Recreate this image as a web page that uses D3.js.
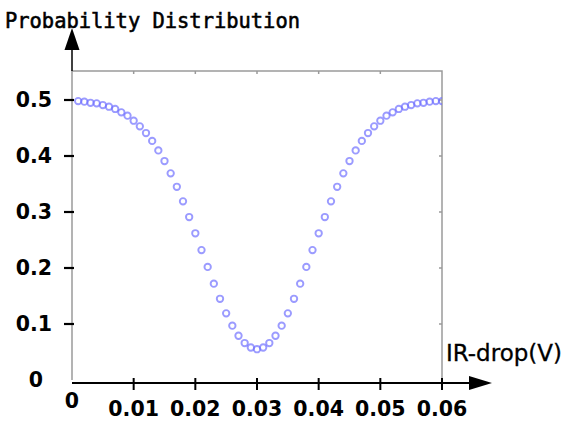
<!DOCTYPE html>
<html>
<head>
<meta charset="utf-8">
<script src="https://cdn.jsdelivr.net/npm/d3@7"></script>
<style>
  html, body { margin: 0; padding: 0; background: #fff; }
  svg { display: block; }
</style>
</head>
<body>
<svg id="chart" width="564" height="424"></svg>
<script>
// ---- data ----
const xValues = [0.001,0.002,0.003,0.004,0.005,0.006,0.007,0.008,0.009,0.010,
                 0.011,0.012,0.013,0.014,0.015,0.016,0.017,0.018,0.019,0.020,
                 0.021,0.022,0.023,0.024,0.025,0.026,0.027,0.028,0.029,0.030,
                 0.031,0.032,0.033,0.034,0.035,0.036,0.037,0.038,0.039,0.040,
                 0.041,0.042,0.043,0.044,0.045,0.046,0.047,0.048,0.049,0.050,
                 0.051,0.052,0.053,0.054,0.055,0.056,0.057,0.058,0.059,0.060];
const probValues = [0.498,0.497,0.495,0.494,0.491,0.488,0.484,0.478,0.472,0.463,
                    0.453,0.441,0.427,0.410,0.391,0.369,0.345,0.319,0.291,0.262,
                    0.232,0.202,0.172,0.145,0.119,0.097,0.079,0.066,0.058,0.055,
                    0.058,0.066,0.079,0.097,0.119,0.145,0.172,0.202,0.232,0.262,
                    0.291,0.319,0.345,0.369,0.391,0.410,0.427,0.441,0.453,0.463,
                    0.472,0.478,0.484,0.488,0.491,0.494,0.495,0.497,0.498,0.498];
const xTicks = [0.01, 0.02, 0.03, 0.04, 0.05, 0.06];
const xTickLabels = ["0.01", "0.02", "0.03", "0.04", "0.05", "0.06"];
const yTicks = [0.1, 0.2, 0.3, 0.4, 0.5];
const yTickLabels = ["0.1", "0.2", "0.3", "0.4", "0.5"];
const titleY = "Probability Distribution";
const titleX = "IR-drop(V)";

// ---- layout ----
const svg = d3.select("#chart");
const x = d3.scaleLinear().domain([0, 0.06]).range([72, 442]);
const y = d3.scaleLinear().domain([0, 0.55]).range([380, 72]);
const frameTop = 71;
const axisY = 383;
const grey = "#9a9a9a";
const labelFont = "'DejaVu Sans', sans-serif";

const defs = svg.append("defs");
defs.append("clipPath").attr("id", "plotClip")
  .append("rect").attr("x", x(0)).attr("y", frameTop).attr("width", x(0.06) - x(0)).attr("height", 380 - frameTop);
defs.append("filter").attr("id", "soft").attr("x", "-50%").attr("y", "-50%").attr("width", "200%").attr("height", "200%")
  .append("feGaussianBlur").attr("stdDeviation", 0.55);

// frame (grey)
svg.append("path")
  .attr("d", `M${x(0)},380 V${frameTop} H${x(0.06)} V380`)
  .attr("fill", "none").attr("stroke", grey).attr("stroke-width", 1.5);

// top frame ticks (inward)
svg.append("g").selectAll("line").data(xTicks.slice(0, 5)).join("line")
  .attr("x1", d => x(d)).attr("x2", d => x(d))
  .attr("y1", frameTop).attr("y2", frameTop + 3)
  .attr("stroke", grey).attr("stroke-width", 1.5);
// right frame ticks (inward)
svg.append("g").selectAll("line").data(yTicks).join("line")
  .attr("x1", x(0.06) - 3).attr("x2", x(0.06))
  .attr("y1", d => y(d)).attr("y2", d => y(d))
  .attr("stroke", grey).attr("stroke-width", 1.5);

// y axis extension above frame + arrow
svg.append("line").attr("x1", x(0)).attr("x2", x(0)).attr("y1", 48).attr("y2", frameTop)
  .attr("stroke", "#000").attr("stroke-width", 1.5);
svg.append("path").attr("d", `M${x(0)},28 L${x(0) + 7.5},50 L${x(0) - 7.5},50 Z`).attr("fill", "#000");

// x axis line + arrow
svg.append("line").attr("x1", x(0)).attr("x2", 472).attr("y1", axisY).attr("y2", axisY)
  .attr("stroke", "#000").attr("stroke-width", 2);
svg.append("path").attr("d", `M492,${axisY} L469,${axisY - 7} L469,${axisY + 7} Z`).attr("fill", "#000");

// x ticks
svg.append("g").selectAll("line").data(xTicks).join("line")
  .attr("x1", d => x(d)).attr("x2", d => x(d))
  .attr("y1", axisY - 5).attr("y2", axisY + 7)
  .attr("stroke", "#000").attr("stroke-width", 2);

// y ticks
svg.append("g").selectAll("line").data(yTicks).join("line")
  .attr("x1", x(0) - 8).attr("x2", x(0) + 2)
  .attr("y1", d => y(d)).attr("y2", d => y(d))
  .attr("stroke", "#000").attr("stroke-width", 2.2);

// tick labels
svg.append("g").selectAll("text").data(xTicks).join("text")
  .attr("x", d => x(d)).attr("y", 416)
  .attr("text-anchor", "middle")
  .attr("font-family", labelFont).attr("font-weight", "bold").attr("font-size", 20.5)
  .attr("fill", "#000")
  .text((d, i) => xTickLabels[i]);
svg.append("text").attr("x", x(0)).attr("y", 408).attr("text-anchor", "middle")
  .attr("font-family", labelFont).attr("font-weight", "bold").attr("font-size", 20.5)
  .text("0");

svg.append("g").selectAll("text").data(yTicks).join("text")
  .attr("x", 52).attr("y", d => y(d)).attr("dy", "0.36em")
  .attr("text-anchor", "end")
  .attr("font-family", labelFont).attr("font-weight", "bold").attr("font-size", 20.5)
  .text((d, i) => yTickLabels[i]);
svg.append("text").attr("x", 43).attr("y", y(0)).attr("dy", "0.36em")
  .attr("text-anchor", "end")
  .attr("font-family", labelFont).attr("font-weight", "bold").attr("font-size", 20.5)
  .text("0");

// axis titles
svg.append("text").attr("x", 5).attr("y", 28)
  .attr("font-family", "'DejaVu Sans Mono', monospace").attr("font-size", 22)
  .attr("stroke", "#000").attr("stroke-width", 0.6)
  .attr("textLength", 295).attr("lengthAdjust", "spacingAndGlyphs")
  .text(titleY);
svg.append("text").attr("x", 446).attr("y", 361)
  .attr("font-family", labelFont).attr("font-size", 22.5)
  .attr("stroke", "#000").attr("stroke-width", 0.3)
  .attr("textLength", 116).attr("lengthAdjust", "spacingAndGlyphs")
  .text(titleX);

// data markers
svg.append("g").attr("clip-path", "url(#plotClip)")
  .append("g").attr("filter", "url(#soft)")
  .selectAll("circle").data(xValues).join("circle")
  .attr("cx", d => x(d))
  .attr("cy", (d, i) => y(probValues[i]))
  .attr("r", 3.2)
  .attr("fill", "none")
  .attr("stroke", "#6f6fff")
  .attr("stroke-opacity", 0.7)
  .attr("stroke-width", 1.9);
</script>
</body>
</html>
